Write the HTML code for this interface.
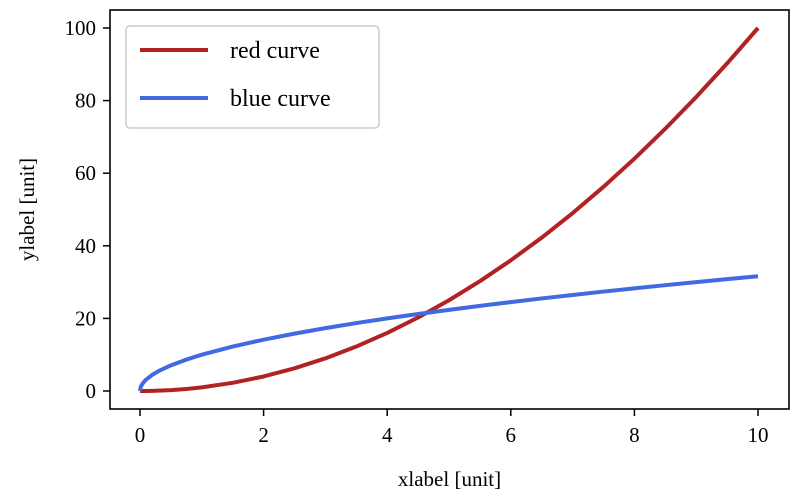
<!DOCTYPE html>
<html><head><meta charset="utf-8"><style>
body{margin:0;background:#fff}
svg text{font-family:"Liberation Serif",serif;fill:#000}
</style></head><body>
<svg id="chart" width="793" height="494" xmlns="http://www.w3.org/2000/svg">
<g id="plot"></g>
<rect x="110" y="10" width="679" height="399" fill="none" stroke="#000" stroke-width="1.6"/>
<g id="xticks"></g><g id="yticks"></g>
<text x="449.5" y="486" font-size="21" text-anchor="middle">xlabel [unit]</text>
<text transform="translate(34,209.5) rotate(-90)" font-size="21" text-anchor="middle">ylabel [unit]</text>
<g>
<rect x="126" y="26" width="253" height="102" rx="4" fill="#fff" fill-opacity="0.8" stroke="#ccc" stroke-width="1.5"/>
<line x1="140" y1="50" x2="208" y2="50" stroke="#b22222" stroke-width="4"/>
<text x="230" y="58" font-size="24">red curve</text>
<line x1="140" y1="98" x2="208" y2="98" stroke="#4169e1" stroke-width="4"/>
<text x="230" y="106" font-size="24">blue curve</text>
</g>
</svg>
<script>
const xValues=[0,0.01,0.03,0.06,0.1,0.2,0.3,0.5,0.75,1,1.5,2,2.5,3,3.5,4,4.5,5,5.5,6,6.5,7,7.5,8,8.5,9,9.5,10];
const redValues=[0,0,0,0,0.01,0.04,0.09,0.25,0.56,1,2.25,4,6.25,9,12.25,16,20.25,25,30.25,36,42.25,49,56.25,64,72.25,81,90.25,100];
const blueValues=[0,1,1.73,2.45,3.16,4.47,5.48,7.07,8.66,10,12.25,14.14,15.81,17.32,18.71,20,21.21,22.36,23.45,24.49,25.5,26.46,27.39,28.28,29.15,30,30.82,31.62];
const xTicks=[0,2,4,6,8,10];
const yTicks=[0,20,40,60,80,100];
const NS="http://www.w3.org/2000/svg";
const xs=v=>140+(v-0)*(758-140)/10;
const ys=v=>391-(v)*(391-28)/100;
const plot=document.getElementById('plot');
function addLine(vals,color,name){
  const p=document.createElementNS(NS,'polyline');
  
  
  p.setAttribute('points',xValues.map((x,i)=>xs(x)+','+ys(vals[i])).join(' '));
  p.setAttribute('fill','none');p.setAttribute('stroke',color);p.setAttribute('stroke-width','4');
  p.setAttribute('stroke-linejoin','round');
  plot.appendChild(p);
}
addLine(redValues,'#b22222','red-curve');
addLine(blueValues,'#4169e1','blue-curve');
const xt=document.getElementById('xticks');
xTicks.forEach(t=>{
  const l=document.createElementNS(NS,'line');
  
  
  l.setAttribute('x1',xs(t));l.setAttribute('x2',xs(t));l.setAttribute('y1',409);l.setAttribute('y2',416);l.setAttribute('stroke','#000');l.setAttribute('stroke-width','1.5');
  xt.appendChild(l);
  const s=document.createElementNS(NS,'text');
  
  
  s.setAttribute('x',xs(t));s.setAttribute('y',442);s.setAttribute('font-size','21');s.setAttribute('text-anchor','middle');
  s.textContent=t;xt.appendChild(s);
});
const yt=document.getElementById('yticks');
yTicks.forEach(t=>{
  const l=document.createElementNS(NS,'line');
  
  
  l.setAttribute('x1',103);l.setAttribute('x2',110);l.setAttribute('y1',ys(t));l.setAttribute('y2',ys(t));l.setAttribute('stroke','#000');l.setAttribute('stroke-width','1.5');
  yt.appendChild(l);
  const s=document.createElementNS(NS,'text');
  
  
  s.setAttribute('x',96);s.setAttribute('y',ys(t)+7);s.setAttribute('font-size','21');s.setAttribute('text-anchor','end');
  s.textContent=t;yt.appendChild(s);
});
</script>
</body></html>
